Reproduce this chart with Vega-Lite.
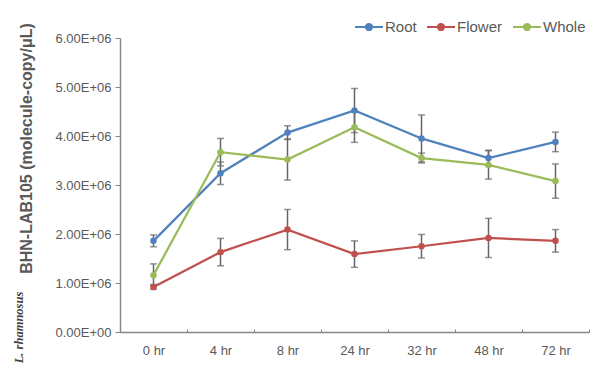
{
  "$schema": "https://vega.github.io/schema/vega-lite/v6.json",
  "width": 469,
  "height": 294,
  "autosize": {"type": "none"},
  "padding": {"left": 120, "top": 38, "right": 6, "bottom": 33},
  "background": "white",
  "config": {
    "view": {"stroke": null},
    "font": "Liberation Sans",
    "axis": {"labelFont": "Liberation Sans", "labelColor": "#595959", "labelFontSize": 13, "domainColor": "#868686", "tickColor": "#868686", "grid": false}
  },
  "data": {
    "values": [
      {"time": "0 hr", "series": "Root", "mean": 1860000, "err": 120000},
      {"time": "4 hr", "series": "Root", "mean": 3240000, "err": 230000},
      {"time": "8 hr", "series": "Root", "mean": 4070000, "err": 140000},
      {"time": "24 hr", "series": "Root", "mean": 4520000, "err": 450000},
      {"time": "32 hr", "series": "Root", "mean": 3950000, "err": 480000},
      {"time": "48 hr", "series": "Root", "mean": 3550000, "err": 160000},
      {"time": "72 hr", "series": "Root", "mean": 3880000, "err": 200000},
      {"time": "0 hr", "series": "Flower", "mean": 920000, "err": 50000},
      {"time": "4 hr", "series": "Flower", "mean": 1630000, "err": 280000},
      {"time": "8 hr", "series": "Flower", "mean": 2090000, "err": 410000},
      {"time": "24 hr", "series": "Flower", "mean": 1590000, "err": 270000},
      {"time": "32 hr", "series": "Flower", "mean": 1750000, "err": 240000},
      {"time": "48 hr", "series": "Flower", "mean": 1920000, "err": 400000},
      {"time": "72 hr", "series": "Flower", "mean": 1860000, "err": 230000},
      {"time": "0 hr", "series": "Whole", "mean": 1160000, "err": 230000},
      {"time": "4 hr", "series": "Whole", "mean": 3670000, "err": 280000},
      {"time": "8 hr", "series": "Whole", "mean": 3520000, "err": 420000},
      {"time": "24 hr", "series": "Whole", "mean": 4180000, "err": 310000},
      {"time": "32 hr", "series": "Whole", "mean": 3550000, "err": 100000},
      {"time": "48 hr", "series": "Whole", "mean": 3410000, "err": 290000},
      {"time": "72 hr", "series": "Whole", "mean": 3080000, "err": 350000}
    ]
  },
  "encoding": {
    "x": {
      "field": "time", "type": "ordinal",
      "sort": ["0 hr", "4 hr", "8 hr", "24 hr", "32 hr", "48 hr", "72 hr"],
      "scale": {"type": "band", "paddingInner": 0, "paddingOuter": 0},
      "axis": {"title": null, "labelAngle": 0, "tickBand": "extent", "tickSize": -3, "labelPadding": 15, "domainWidth": 1.5}
    }
  },
  "layer": [
    {
      "mark": {"type": "line", "strokeWidth": 2.25},
      "encoding": {
        "y": {
          "field": "mean", "type": "quantitative",
          "scale": {"domain": [0, 6000000], "nice": false},
          "axis": {
            "orient": "left",
            "values": [0, 1000000, 2000000, 3000000, 4000000, 5000000, 6000000],
            "labelExpr": "datum.value == 0 ? '0.00E+00' : format(datum.value / 1000000, '.2f') + 'E+06'",
            "tickSize": 5, "labelPadding": 4, "domainWidth": 1.5,
            "title": "BHN-LAB105 (molecule-copy/μL)",
            "titleFont": "Liberation Sans", "titleFontSize": 16, "titleFontWeight": "bold", "titleColor": "#595959",
            "titleAngle": -90, "titleAlign": "center", "titleBaseline": "alphabetic",
            "titleX": -89, "titleY": 110
          }
        },
        "color": {
          "field": "series", "type": "nominal",
          "scale": {"domain": ["Root", "Flower", "Whole"], "range": ["#4F81BD", "#C0504D", "#9BBB59"]},
          "legend": {
            "title": null, "orient": "none", "direction": "horizontal",
            "legendX": 234, "legendY": -26,
            "symbolType": "M-1,0H1M-0.22,0A0.22,0.22 0 1,0 0.22,0A0.22,0.22 0 1,0 -0.22,0",
            "symbolSize": 784, "symbolStrokeWidth": 2,
            "labelFont": "Liberation Sans", "labelFontSize": 15, "labelColor": "#595959",
            "labelOffset": 1, "columnPadding": 6
          }
        }
      }
    },
    {
      "mark": {"type": "errorbar", "ticks": {"size": 7}, "color": "#666666", "thickness": 1.5},
      "encoding": {
        "y": {"field": "mean", "type": "quantitative", "axis": null},
        "yError": {"field": "err"}
      }
    },
    {
      "mark": {"type": "point", "filled": true, "size": 42, "opacity": 1},
      "encoding": {
        "y": {
          "field": "mean", "type": "quantitative",
          "axis": {
            "orient": "left", "labels": false, "ticks": false, "domain": false,
            "title": "L. rhamnosus",
            "titleFont": "Liberation Serif", "titleFontSize": 12.5, "titleFontWeight": "bold", "titleFontStyle": "italic", "titleColor": "#404040",
            "titleAngle": -90, "titleAlign": "center", "titleBaseline": "alphabetic",
            "titleX": -98, "titleY": 289
          }
        },
        "color": {"field": "series", "type": "nominal"}
      }
    }
  ],
  "resolve": {"axis": {"y": "independent"}}
}
